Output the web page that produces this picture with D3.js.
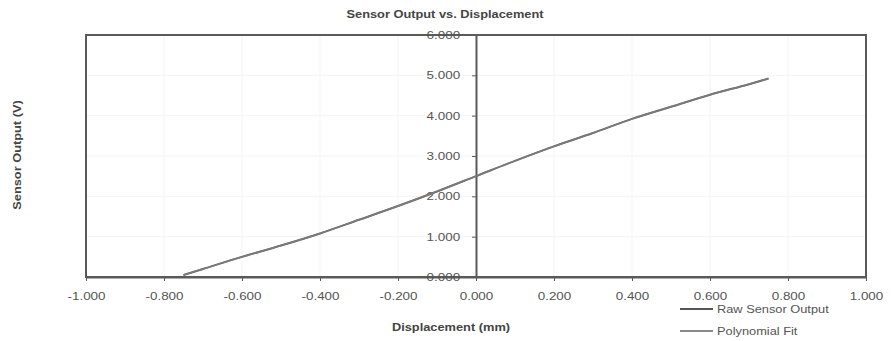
<!DOCTYPE html>
<html><head><meta charset="utf-8">
<script src="https://cdn.jsdelivr.net/npm/d3@7"></script>
<style>
body{margin:0;background:#fff;}
text{font-family:"Liberation Sans",Arial,sans-serif;}
</style></head>
<body><svg id="c" width="891" height="341"></svg>
<script>
const displacement = [-0.75,-0.70,-0.60,-0.50,-0.40,-0.30,-0.20,-0.10,0.00,0.10,0.20,0.30,0.40,0.50,0.60,0.70,0.75];
const rawOutput    = [0.05,0.20,0.50,0.78,1.08,1.42,1.76,2.12,2.50,2.88,3.24,3.57,3.92,4.22,4.52,4.78,4.92];
const polyFit      = [0.05,0.20,0.50,0.78,1.08,1.42,1.76,2.12,2.50,2.88,3.24,3.57,3.92,4.22,4.52,4.78,4.92];
const xTicks = [-1.0,-0.8,-0.6,-0.4,-0.2,0.0,0.2,0.4,0.6,0.8,1.0];
const yTicks = [0,1,2,3,4,5,6];
const seriesNames = ["Raw Sensor Output","Polynomial Fit"];
const titleText = "Sensor Output vs. Displacement";
const xTitle = "Displacement (mm)";
const yTitle = "Sensor Output (V)";

const SX = 1.22; // horizontal stretch of text as in reference
const svg = d3.select("#c");
const x = d3.scaleLinear().domain([-1,1]).range([86,866]);
const y = d3.scaleLinear().domain([0,6]).range([277,35]);
const fmt = d => d3.format(".3f")(d).replace("\u2212","-");

// faint grid
svg.append("g").selectAll("line").data(xTicks).join("line")
  .attr("x1",d=>x(d)).attr("x2",d=>x(d)).attr("y1",y(6)).attr("y2",y(0))
  .attr("stroke","#f3f3f3").attr("stroke-width",1);
svg.append("g").selectAll("line").data(yTicks).join("line")
  .attr("x1",x(-1)).attr("x2",x(1)).attr("y1",d=>y(d)).attr("y2",d=>y(d))
  .attr("stroke","#f3f3f3").attr("stroke-width",1);

// frame
svg.append("rect").attr("x",x(-1)).attr("y",y(6)).attr("width",x(1)-x(-1)).attr("height",y(0)-y(6))
  .attr("fill","none").attr("stroke","#5a5a5a").attr("stroke-width",2);

function styleAxis(g){
  g.select(".domain").attr("stroke","#5a5a5a").attr("stroke-width",2);
  g.selectAll(".tick line").attr("stroke","#5a5a5a");
  g.selectAll(".tick text").attr("fill","#555").attr("font-size",11);
}

// x axis
const gx = svg.append("g").attr("transform",`translate(0,${y(0)})`)
  .call(d3.axisBottom(x).tickValues(xTicks).tickFormat(fmt).tickSize(4).tickPadding(11).tickSizeOuter(0));
styleAxis(gx);
gx.selectAll(".tick text").attr("transform",`scale(${SX},1)`);

// y axis at x=0
const gy = svg.append("g").attr("transform",`translate(${x(0)},0)`)
  .call(d3.axisLeft(y).tickValues(yTicks).tickFormat(fmt).tickSize(4).tickPadding(9).tickSizeOuter(0));
styleAxis(gy);
gy.selectAll(".tick text").attr("transform",`scale(${SX},1)`);

// lines
const line = vals => d3.line().curve(d3.curveMonotoneX).x((d,i)=>x(displacement[i])).y(d=>y(d))(vals);
svg.append("path").attr("d",line(rawOutput)).attr("fill","none").attr("stroke","#6a6a6a").attr("stroke-width",2);
svg.append("path").attr("d",line(polyFit)).attr("fill","none").attr("stroke","#7a7a7a").attr("stroke-width",1.5);

function stretchedText(cx,cy,txt,opts){
  const g = svg.append("g").attr("transform",`translate(${cx},${cy})${opts.rot?` rotate(${opts.rot})`:""}`);
  g.append("text").attr("transform",`scale(${SX},1)`).attr("text-anchor",opts.anchor||"middle")
    .attr("font-size",opts.size).attr("font-weight",opts.bold?"bold":"normal").attr("fill",opts.fill||"#444").text(txt);
  return g;
}
stretchedText(445,18,titleText,{size:10.5,bold:true});
stretchedText(451,331,xTitle,{size:10.5,bold:true});
stretchedText(21,155,yTitle,{size:10.5,bold:true,rot:-90});

// legend
const leg = svg.append("g");
const legY = [309,331];
const legCol = ["#555","#8a8a8a"];
seriesNames.forEach((n,i)=>{
  leg.append("line").attr("x1",680).attr("x2",713).attr("y1",legY[i]).attr("y2",legY[i])
    .attr("stroke",legCol[i]).attr("stroke-width",2);
  stretchedText(717,legY[i]+4,n,{size:10.5,anchor:"start",fill:"#555"});
});
</script></body></html>
